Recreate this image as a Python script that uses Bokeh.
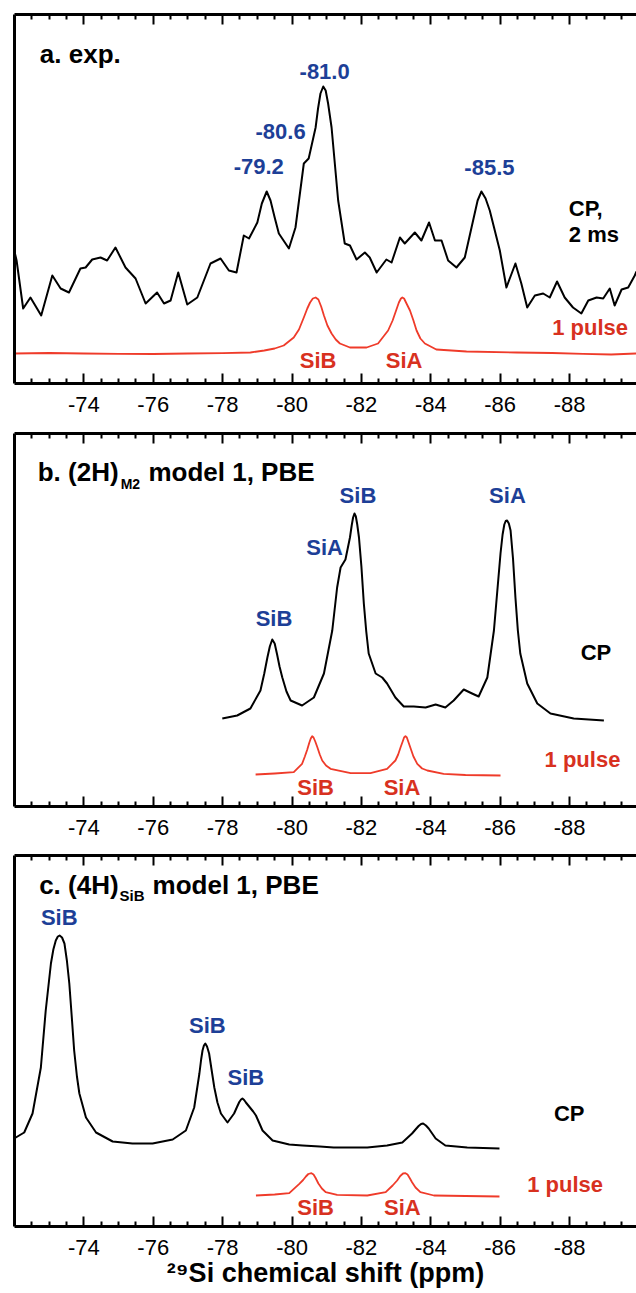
from bokeh.plotting import figure
from bokeh.models import Range1d, LinearAxis, FixedTicker
from bokeh.layouts import column
from bokeh.embed import file_html
from bokeh.resources import INLINE
from bokeh.core.properties import value

FONT = "Liberation Sans"
BLUE = "#1d3f97"
RED_TXT = "#d8311f"
RED_LINE = "#ef3b2a"

# ---------------- axis ticks ----------------
major_ticks = [-74, -76, -78, -80, -82, -84, -86, -88]
major_labels = ["-74", "-76", "-78", "-80", "-82", "-84", "-86", "-88"]
minor_ticks = [-72.5, -73, -73.5, -74.5, -75, -75.5, -76.5, -77, -77.5, -78.5, -79, -79.5,
               -80.5, -81, -81.5, -82.5, -83, -83.5, -84.5, -85, -85.5, -86.5, -87, -87.5,
               -88.5, -89, -89.5]

# ---------------- panel a: experiment ----------------
a_cp_ppm = [-71.98, -72.06, -72.25, -72.46, -72.77, -73.09, -73.33, -73.57, -73.90, -74.05,
            -74.24, -74.48, -74.67, -74.91, -75.20, -75.49, -75.78, -76.11, -76.31, -76.50,
            -76.72, -76.98, -77.27, -77.65, -77.94, -78.18, -78.40, -78.61, -78.76, -79.00,
            -79.13, -79.27, -79.38, -79.50, -79.62, -79.91, -80.10, -80.34, -80.48, -80.68,
            -80.75, -80.82, -80.90, -80.97, -81.04, -81.14, -81.33, -81.52, -81.67, -81.86,
            -82.10, -82.24, -82.44, -82.72, -82.87, -83.11, -83.25, -83.54, -83.73, -83.95,
            -84.12, -84.31, -84.50, -84.74, -84.98, -85.22, -85.35, -85.46, -85.58, -85.70,
            -85.99, -86.18, -86.44, -86.61, -86.78, -87.00, -87.24, -87.43, -87.64, -87.86,
            -88.10, -88.34, -88.54, -88.78, -88.97, -89.16, -89.30, -89.50, -89.69, -89.88,
            -89.93]
a_cp_int = [135, 123, 75, 86, 68, 108, 95, 91, 115, 116,
            124, 126, 123, 136, 116, 105, 80, 91, 80, 83,
            111, 79, 86, 120, 125, 113, 111, 148, 145, 161,
            180, 192, 183, 166, 150, 135, 156, 220, 225, 256,
            275, 290, 297, 293, 280, 256, 183, 140, 138, 124,
            131, 126, 111, 124, 121, 146, 140, 151, 143, 161,
            143, 143, 123, 116, 126, 163, 183, 192, 185, 173,
            133, 96, 120, 100, 76, 88, 90, 86, 102, 86,
            76, 70, 83, 86, 85, 95, 78, 94, 96, 108,
            112]
a_1p_ppm = [-71.98, -73.0, -74.0, -75.0, -76.0, -77.0, -78.0, -78.8, -79.2, -79.5,
            -79.76, -80.05, -80.2, -80.34, -80.44, -80.52, -80.60, -80.68, -80.76, -80.84,
            -80.92, -81.02, -81.14, -81.26, -81.38, -81.67, -82.15, -82.48, -82.77, -82.90,
            -83.01, -83.08, -83.14, -83.18, -83.23, -83.30, -83.40, -83.50, -83.59, -83.70,
            -83.83, -84.16, -85.03, -86.47, -87.5, -88.39, -89.2, -89.93]
a_1p_int = [30, 30.5, 30, 29.7, 29.5, 30, 30.3, 31, 33, 35,
            38, 46, 54, 66, 75, 81, 85, 86, 84, 77,
            68, 58, 50, 44, 40, 36, 36, 40, 53, 63,
            74, 81, 85, 86, 85, 80, 73, 63, 53, 45,
            40, 34, 32, 31, 30.5, 29.7, 29, 30]

a_peak_text = ["-81.0", "-80.6", "-79.2", "-85.5"]
a_peak_x = [-80.94, -79.67, -79.04, -85.69]
a_peak_y = [312, 252, 217, 216]

# ---------------- panel b: (2H)M2 model 1 ----------------
b_cp_ppm = [-77.99, -78.42, -78.80, -79.09, -79.20, -79.29, -79.36, -79.43, -79.50, -79.57,
            -79.64, -79.72, -79.84, -79.96, -80.29, -80.63, -80.92, -81.16, -81.30, -81.40,
            -81.54, -81.67, -81.72, -81.76, -81.80, -81.84, -81.88, -81.93, -82.00, -82.07,
            -82.14, -82.21, -82.41, -82.60, -82.74, -82.98, -83.22, -83.51, -83.85, -84.14,
            -84.42, -84.66, -84.95, -85.19, -85.38, -85.63, -85.82, -86.01, -86.07, -86.12,
            -86.16, -86.20, -86.25, -86.30, -86.37, -86.44, -86.51, -86.58, -86.78, -87.07,
            -87.45, -88.12, -88.99]
b_cp_int = [88, 91, 98, 116, 133, 149, 160, 167, 163, 152,
            140, 129, 115, 106, 101, 109, 133, 176, 219, 239,
            247, 269, 281, 289, 293, 290, 282, 269, 240, 203,
            175, 153, 133, 129, 123, 109, 100, 100, 99, 102,
            99, 106, 117, 113, 110, 129, 176, 253, 272, 282,
            285.5, 286, 283, 276, 248, 209, 176, 153, 123, 103,
            93, 88, 86]
b_1p_ppm = [-78.95, -79.5, -80.05, -80.29, -80.37, -80.44, -80.50, -80.54, -80.58, -80.62,
            -80.67, -80.73, -80.80, -80.87, -80.98, -81.11, -81.69, -82.26, -82.74, -82.98,
            -83.06, -83.13, -83.19, -83.23, -83.27, -83.31, -83.36, -83.42, -83.50, -83.61,
            -83.75, -83.90, -84.37, -85.0, -86.01]
b_1p_int = [32, 33, 34.3, 42.7, 50, 57, 64, 68, 70.3, 69,
            65, 59.3, 52, 46, 41, 37.7, 33.3, 33.3, 37.7, 46,
            52, 59.3, 65, 69, 70.3, 69, 64, 58, 50, 42.7,
            38, 36, 32.7, 31.5, 31]

b_peak_text = ["SiB", "SiA", "SiB", "SiA"]
b_peak_x = [-79.48, -80.94, -81.90, -86.21]
b_peak_y = [188, 259, 311, 311]

# ---------------- panel c: (4H)SiB model 1 ----------------
c_cp_ppm = [-71.99, -72.28, -72.52, -72.76, -72.90, -73.05, -73.12, -73.19, -73.25, -73.30,
            -73.37, -73.44, -73.51, -73.58, -73.65, -73.72, -73.80, -73.87, -74.06, -74.35,
            -74.83, -75.40, -75.98, -76.56, -76.94, -77.18, -77.33, -77.38, -77.42, -77.46,
            -77.50, -77.55, -77.61, -77.68, -77.76, -77.85, -77.95, -78.14, -78.33, -78.42,
            -78.48, -78.53, -78.57, -78.62, -78.67, -78.74, -78.81, -78.88, -78.96, -79.15,
            -79.44, -79.92, -80.30, -80.80, -81.20, -82.17, -82.74, -83.18, -83.46, -83.56,
            -83.65, -83.72, -83.78, -83.86, -83.94, -84.04, -84.14, -84.42, -85.05, -85.98]
c_cp_int = [88, 94, 113, 159, 216, 263, 277, 286, 290, 291,
            289, 283, 266, 243, 210, 176, 150, 133, 109, 94,
            85, 83, 83, 87, 96, 119, 153, 167, 176, 181,
            183, 180, 173, 157, 139, 124, 113, 104, 113, 120,
            124.5, 127, 128, 126.5, 124, 121, 118, 115, 111, 96,
            86, 82, 81, 80, 79, 79, 81, 84, 93, 97,
            100.5, 102.5, 103, 101, 98, 93, 88, 81, 79, 78]
c_1p_ppm = [-78.96, -79.5, -79.92, -80.21, -80.32, -80.40, -80.47, -80.56, -80.62, -80.68,
            -80.76, -80.86, -80.97, -81.30, -82.17, -82.70, -82.90, -83.03, -83.12, -83.20,
            -83.27, -83.33, -83.40, -83.46, -83.56, -83.70, -84.09, -85.0, -85.98]
c_1p_int = [31, 32, 33.3, 42.7, 46.5, 50, 52.5, 53.3, 52, 48.5,
            43, 38, 34.3, 31.7, 31, 34.3, 41, 46, 50.5, 53,
            53.3, 52, 48, 44.3, 39, 34.3, 31, 30.5, 30]

c_peak_text = ["SiB", "SiB", "SiB"]
c_peak_x = [-73.29, -77.56, -78.67]
c_peak_y = [309, 201, 149]

# red site labels under the 1-pulse traces
site_text = ["SiB", "SiA"]


def make_panel(height, y_max, top, bottom, xlabel=None):
    p = figure(width=636, height=height, x_range=Range1d(-72.0, -89.93),
               y_range=Range1d(0, y_max), output_backend="svg", toolbar_location=None,
               x_axis_type=None, y_axis_type=None,
               min_border_left=14, min_border_right=0,
               min_border_top=top, min_border_bottom=bottom)
    p.outline_line_color = None
    p.background_fill_color = "white"
    p.border_fill_color = "white"

    bx = LinearAxis(ticker=FixedTicker(ticks=major_ticks, minor_ticks=minor_ticks),
                    axis_line_width=3, axis_line_color="black",
                    major_tick_in=10, major_tick_out=0, major_tick_line_width=2,
                    minor_tick_in=5, minor_tick_out=0, minor_tick_line_width=2,
                    major_label_text_font=FONT, major_label_text_font_size="22px",
                    major_label_text_color="black", major_label_standoff=13,
                    major_label_overrides=dict(zip(major_ticks, major_labels)))
    if xlabel:
        bx.axis_label = xlabel
        bx.axis_label_text_font = FONT
        bx.axis_label_text_font_style = "bold"
        bx.axis_label_text_font_size = "27px"
        bx.axis_label_text_color = "black"
        bx.axis_label_standoff = 0
    p.add_layout(bx, "below")

    tx = LinearAxis(ticker=FixedTicker(ticks=major_ticks, minor_ticks=minor_ticks),
                    axis_line_width=3, axis_line_color="black",
                    major_tick_in=10, major_tick_out=0, major_tick_line_width=2,
                    minor_tick_in=5, minor_tick_out=0, minor_tick_line_width=2,
                    major_label_text_font_size="0px", major_label_text_color=None,
                    major_label_standoff=0)
    p.add_layout(tx, "above")

    ly = LinearAxis(ticker=FixedTicker(ticks=[]), axis_line_width=3, axis_line_color="black",
                    major_tick_in=0, major_tick_out=0, minor_tick_in=0, minor_tick_out=0,
                    major_label_text_font_size="0px", major_label_text_color=None,
                    major_label_standoff=0)
    p.add_layout(ly, "left")
    return p


def txt(p, x, y, t, size, color, align="left", style="bold"):
    p.text(x=x, y=y, text=t, text_font=value(FONT), text_font_style=style,
           text_font_size=value(size), text_color=color, text_align=align,
           text_baseline="alphabetic")


# ---------- panel a ----------
pa = make_panel(429, 369, 14, 46)
pa.line(a_cp_ppm, a_cp_int, line_color="black", line_width=2, line_join="round")
pa.line(a_1p_ppm, a_1p_int, line_color=RED_LINE, line_width=1.8, line_join="round")
txt(pa, [-72.73], [330], ["a. exp."], "26px", "black")
txt(pa, a_peak_x, a_peak_y, a_peak_text, "22px", BLUE, "center")
txt(pa, [-87.98, -87.98], [175, 149], ["CP,", "2 ms"], "22px", "black")
txt(pa, [-87.50], [56], ["1 pulse"], "22px", RED_TXT)
txt(pa, [-80.75, -83.23], [23, 23], site_text, "22px", RED_TXT, "center")

# ---------- panel b ----------
pb = make_panel(423, 373, 4, 46)
pb.line(b_cp_ppm, b_cp_int, line_color="black", line_width=2, line_join="round")
pb.line(b_1p_ppm, b_1p_int, line_color=RED_LINE, line_width=1.8, line_join="round")
txt(pb, [-72.67], [335], ["b. (2H)"], "26px", "black")
txt(pb, [-75.06], [323], ["M2"], "14px", "black")
txt(pb, [-75.86], [335], ["model 1, PBE"], "26px", "black")
txt(pb, b_peak_x, b_peak_y, b_peak_text, "22px", BLUE, "center")
txt(pb, [-88.32], [154], ["CP"], "22px", "black")
txt(pb, [-87.28], [47], ["1 pulse"], "22px", RED_TXT)
txt(pb, [-80.68, -83.17], [19, 19], site_text, "22px", RED_TXT, "center")

# ---------- panel c ----------
pc = make_panel(441, 371, 3, 67, xlabel="\u00b2\u2079Si chemical shift (ppm)")
pc.line(c_cp_ppm, c_cp_int, line_color="black", line_width=2, line_join="round")
pc.line(c_1p_ppm, c_1p_int, line_color=RED_LINE, line_width=1.8, line_join="round")
txt(pc, [-72.71], [342], ["c. (4H)"], "26px", "black")
txt(pc, [-75.03], [331], ["SiB"], "15px", "black")
txt(pc, [-75.98], [342], ["model 1, PBE"], "26px", "black")
txt(pc, c_peak_x, c_peak_y, c_peak_text, "22px", BLUE, "center")
txt(pc, [-87.55], [113], ["CP"], "22px", "black")
txt(pc, [-86.78], [42], ["1 pulse"], "22px", RED_TXT)
txt(pc, [-80.68, -83.18], [19, 19], site_text, "22px", RED_TXT, "center")

layout = column(pa, pb, pc, spacing=0)
open("out.html", "w").write(file_html(layout, INLINE))
